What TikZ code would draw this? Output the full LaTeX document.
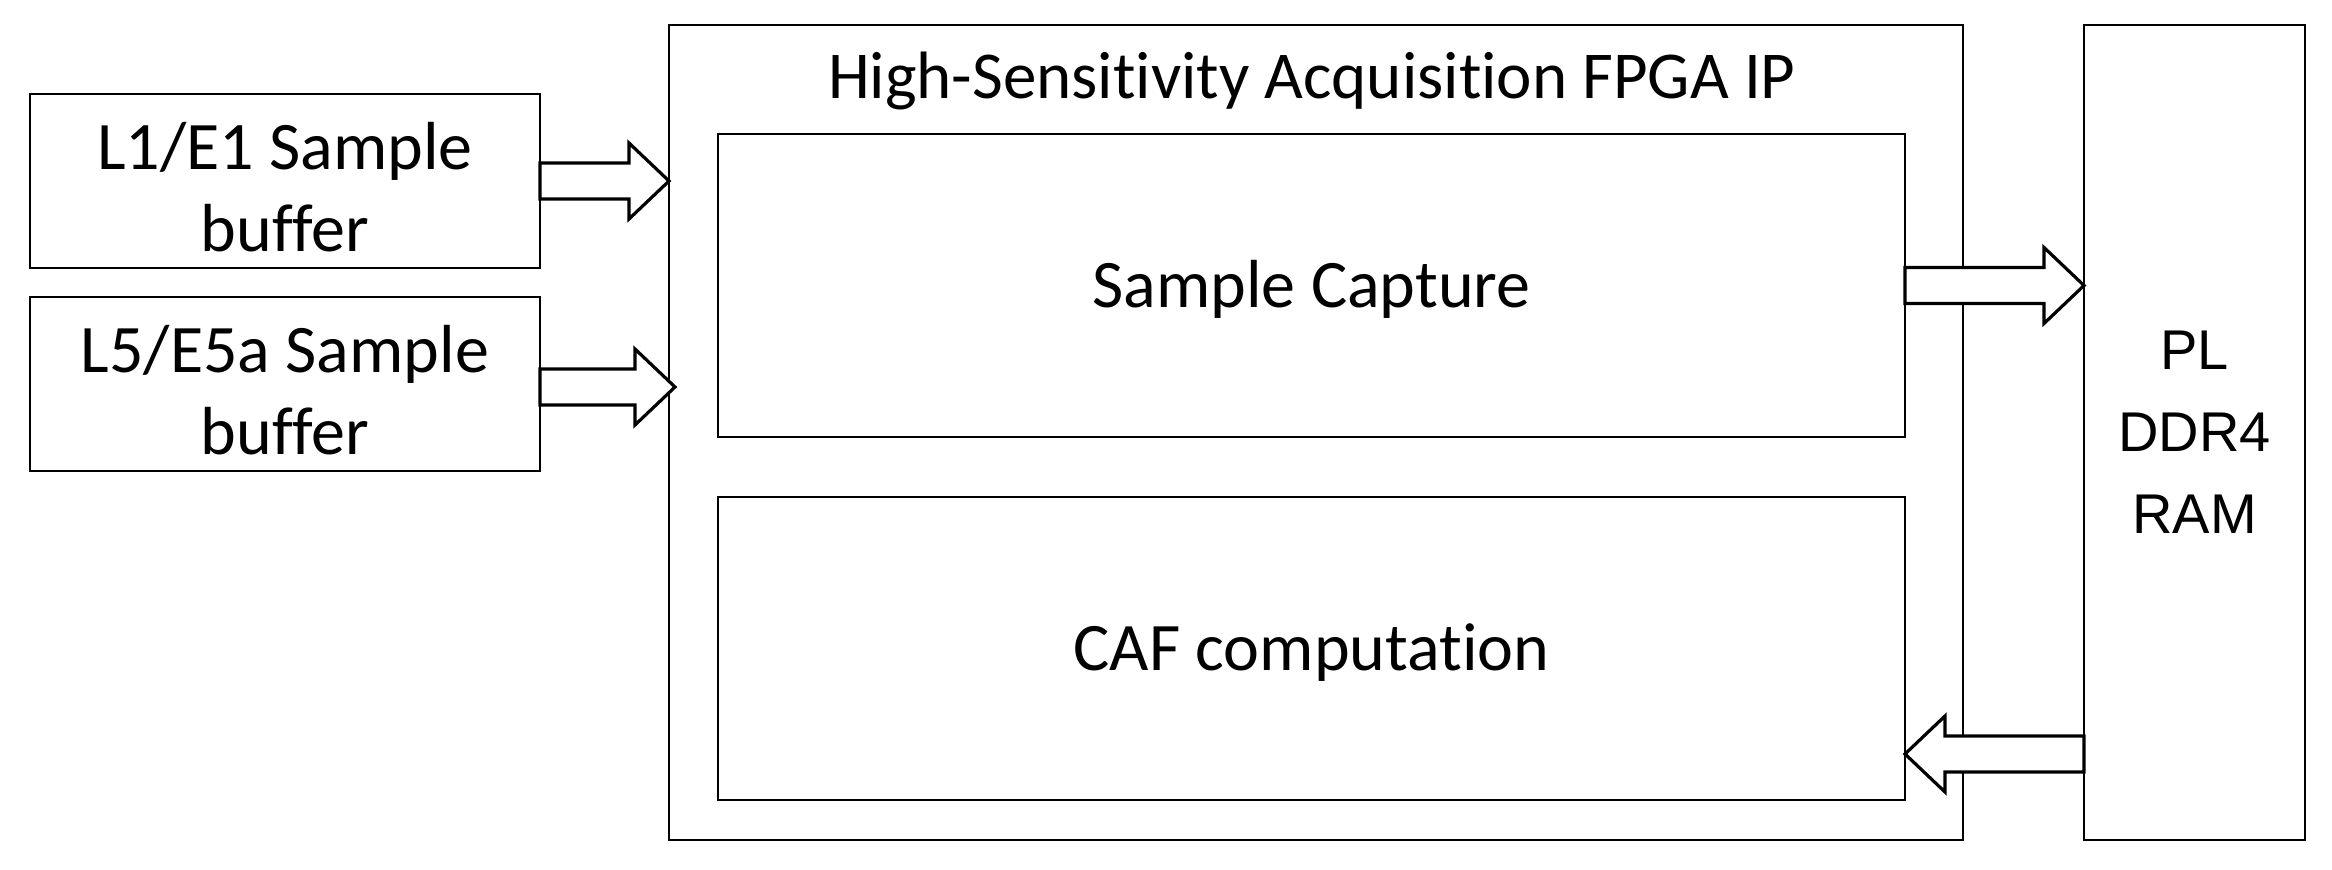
\documentclass[tikz,border=0pt]{standalone}
\usepackage{fontspec}
\setmainfont{Carlito}[Ligatures=CommonOff]
\newfontfamily\arialf{Liberation Sans}
\usetikzlibrary{calc}
\newcommand{\toprule}[1]{\rule{0pt}{#1}}
\begin{document}
\begin{tikzpicture}[x=1pt,y=-1pt,
  box/.style={draw=black,line width=1.6pt,fill=white,inner sep=0pt,outer sep=0pt,align=center},
  fat/.style={draw=black,line width=3.2pt,fill=white,line join=miter},
  btxt/.style={font=\fontsize{68}{82}\selectfont},
  stxt/.style={font=\fontsize{68}{82}\selectfont,text height=60pt,text depth=17pt},
]
\useasboundingbox (0,0) rectangle (2332,870);
\node[box,minimum width=1294pt,minimum height=815pt] (out) at (1316,432.5) {};
\node[font=\fontsize{67}{82}\selectfont,anchor=base,inner sep=0pt] (title) at (1312,98) {High-Sensitivity Acquisition FPGA IP};
\node[box,btxt,minimum width=510pt,minimum height=174pt] (l1) at (285,181) {\toprule{60pt}L1/E1 Sample\\buffer};
\node[box,btxt,minimum width=510pt,minimum height=174pt] (l5) at (285,384) {\toprule{60pt}L5/E5a Sample\\buffer};
\node[box,stxt,minimum width=1187pt,minimum height=303pt] (sc) at (1311.5,285.5) {Sample Capture};
\node[box,stxt,minimum width=1187pt,minimum height=303pt] (caf) at (1311.5,648.5) {CAF computation};
\node[box,minimum width=221pt,minimum height=815pt,font=\arialf\fontsize{56}{82}\selectfont] (ram) at (2194.5,432.5) {PL\\DDR4\\RAM};
% arrows
\coordinate (a2s) at (540,387);
\coordinate (a2e) at (675,387);
\coordinate (a4s) at (2084,754);
\draw[fat] let \p1=(l1.east), \p2=(out.west) in
  (\x1,\y1+18pt) -- (\x2-40pt,\y1+18pt) -- (\x2-40pt,\y1+38pt) -- (\x2,\y1) --
  (\x2-40pt,\y1-38pt) -- (\x2-40pt,\y1-18pt) -- (\x1,\y1-18pt) -- cycle;
\draw[fat] let \p1=(a2s), \p2=(a2e) in
  (\x1,\y1+18pt) -- (\x2-40pt,\y1+18pt) -- (\x2-40pt,\y1+38pt) -- (\x2,\y1) --
  (\x2-40pt,\y1-38pt) -- (\x2-40pt,\y1-18pt) -- (\x1,\y1-18pt) -- cycle;
\draw[fat] let \p1=(sc.east), \p2=(ram.west) in
  (\x1,\y1+18pt) -- (\x2-40pt,\y1+18pt) -- (\x2-40pt,\y1+38pt) -- (\x2,\y1) --
  (\x2-40pt,\y1-38pt) -- (\x2-40pt,\y1-18pt) -- (\x1,\y1-18pt) -- cycle;
\draw[fat] let \p1=(a4s), \p2=(caf.east |- a4s) in
  (\x1,\y1+18pt) -- (\x2+40pt,\y1+18pt) -- (\x2+40pt,\y1+38pt) -- (\x2,\y1) --
  (\x2+40pt,\y1-38pt) -- (\x2+40pt,\y1-18pt) -- (\x1,\y1-18pt) -- cycle;
\end{tikzpicture}
\end{document}
